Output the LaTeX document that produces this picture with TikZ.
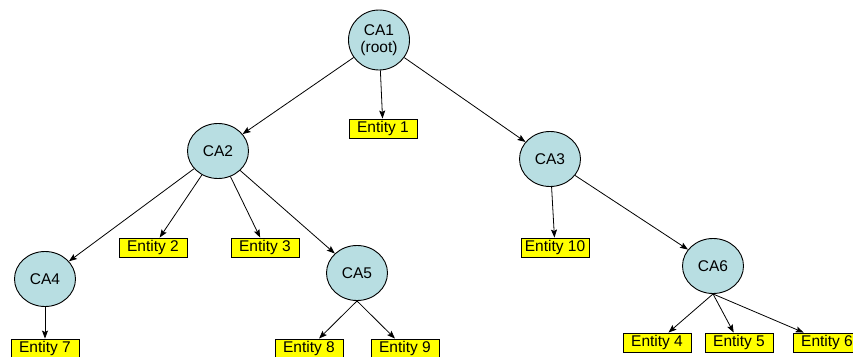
\documentclass[tikz,border=0pt]{standalone}
\usepackage{fontspec}
\setmainfont{Liberation Sans}
\usetikzlibrary{shapes.geometric,arrows.meta}
\definecolor{caFill}{RGB}{184,222,226}
\definecolor{entFill}{RGB}{255,255,0}
\begin{document}
\begin{tikzpicture}[x=1pt,y=-1pt,
  ca/.style={ellipse,draw=black,line width=0.9pt,fill=caFill,
    minimum width=61pt,minimum height=55pt,inner sep=0pt,
    font=\fontsize{15.5}{17.5}\selectfont,align=center},
  entity/.style={rectangle,draw=black,line width=0.9pt,fill=entFill,
    minimum width=68pt,minimum height=19pt,inner xsep=3.5pt,inner ysep=0pt,
    font=\fontsize{15.5}{16}\selectfont},
  link/.style={draw=black,line width=0.8pt,-{Stealth[length=8pt,width=6pt,inset=1.5pt]}}]
  \clip (0,0) rectangle (853,356);
  \fill[white] (0,0) rectangle (853,356);

  % certificate authorities
  \node[ca,minimum height=60pt] (ca1) at (379,40) {CA1\\(root)};
  \node[ca] (ca2) at (218,151) {CA2};
  \node[ca] (ca3) at (550,159) {CA3};
  \node[ca] (ca4) at (45,279) {CA4};
  \node[ca] (ca5) at (357,273) {CA5};
  \node[ca] (ca6) at (713,266) {CA6};

  % end entities
  \node[entity] (e1) at (383,128.5) {Entity 1};
  \node[entity] (e2) at (153,247.5) {Entity 2};
  \node[entity] (e3) at (265,247.5) {Entity 3};
  \node[entity] (e10) at (555,247.5) {Entity 10};
  \node[entity] (e7) at (45,348.5) {Entity 7};
  \node[entity] (e8) at (309,348.5) {Entity 8};
  \node[entity] (e9) at (405,348.5) {Entity 9};
  \node[entity] (e4) at (657,342.5) {Entity 4};
  \node[entity] (e5) at (739,342.5) {Entity 5};
  \node[entity] (e6) at (827,342.5) {Entity 6};

  % hierarchy
  \draw[link] (ca1) -- (ca2);
  \draw[link] (ca1) -- (e1);
  \draw[link] (ca1) -- (ca3);
  \draw[link] (ca2) -- (ca4);
  \draw[link] (ca2) -- (e2);
  \draw[link] (ca2) -- (e3);
  \draw[link] (ca2) -- (ca5);
  \draw[link] (ca3) -- (e10);
  \draw[link] (ca3) -- (ca6);
  \draw[link] (ca4) -- (e7);
  \draw[link] (ca5.south) -- (e8);
  \draw[link] (ca5.south) -- (e9);
  \draw[link] (ca6.south) -- (e4);
  \draw[link] (ca6.south) -- (e5);
  \draw[link] (ca6.south) -- (e6);
\end{tikzpicture}
\end{document}
